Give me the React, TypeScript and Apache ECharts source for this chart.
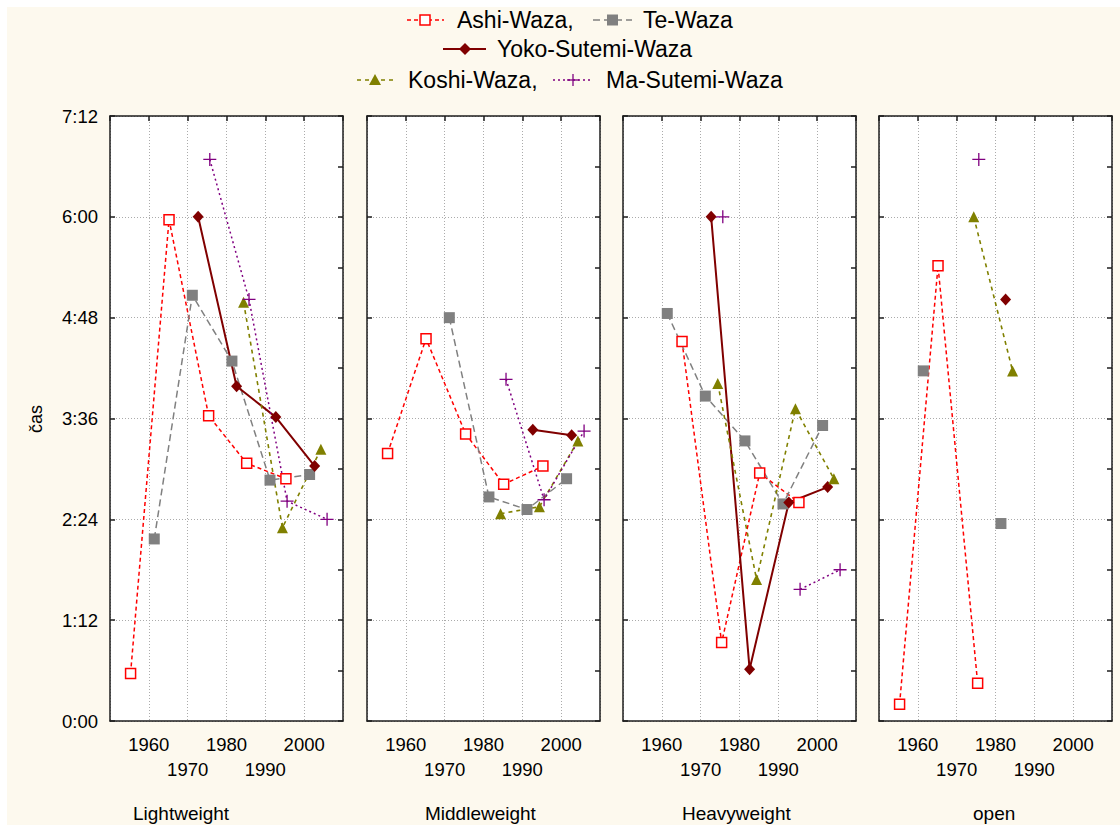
import React, { useEffect, useRef } from "react";
import * as echarts from "echarts";

// ---------- data ----------
const panelNames = ["Lightweight", "Middleweight", "Heavyweight", "open"];
const xTicks = [1960, 1970, 1980, 1990, 2000];

// x positions (year) of each series' points (series are offset within each decade)
const ashiYears = [1955.3, 1965.2, 1975.4, 1985.2, 1995.3];
const teYears = [1961.4, 1971.2, 1981.4, 1991.2, 2001.4];
const yokoYears = [1972.7, 1982.6, 1992.7, 2002.7];
const koshiYears = [1974.4, 1984.4, 1994.4, 2004.3];
const maYears = [1975.7, 1985.8, 1995.6, 2005.9];

// values in seconds, one array per panel (Lightweight, Middleweight, Heavyweight, open)
const ashiSec = [
  [34, 358, 218, 184, 173],
  [191, 273, 205, 169, 182],
  [null, 271, 56, 177, 156],
  [12, 325, 27, null, null],
];
const teSec = [
  [130, 304, 257, 172, 176],
  [null, 288, 160, 151, 173],
  [291, 232, 200, 155, 211],
  [250, null, 141, null, null],
];
const yokoSec = [
  [360, 239, 217, 182],
  [null, null, 208, 204],
  [360, 37, 156, 167],
  [null, 301, null, null],
];
const koshiSec = [
  [null, 299, 138, 194],
  [null, 148, 153, 200],
  [241, 101, 223, 173],
  [360, 250, null, null],
];
const maSec = [
  [401, 301, 157, 144],
  [null, 244, 158, 207],
  [360, null, 94, 108],
  [401, null, null, null],
];

// ---------- layout ----------
const OX = 7;
const OY = 7;
const panelLeft = [110, 367, 623, 879];
const PANEL_TOP = 116;
const PANEL_W = 233;
const PANEL_H = 605;
const FONT = "'Liberation Sans', Arial, sans-serif";
const CREAM = "#FDF9EE";
const AXIS_LINE = { color: "#1e1e1e", width: 1.5 };
const GRID_LINE = { color: "#ababab", width: 1, type: [1, 2] };

const PLUS_PATH = "path://M5.4,0h1.2v12h-1.2zM0,5.4h12v1.2h-12z";

const fmtTime = (v: number) => {
  const m = Math.floor(v / 60);
  const s = Math.round(v % 60);
  return m + ":" + (s < 10 ? "0" + s : String(s));
};

const fmtYear = (v: number) => {
  const y = Math.round(v);
  if (xTicks.indexOf(y) < 0) return "";
  return ((y - 1950) / 10) % 2 === 1 ? String(y) : "\n" + y;
};

const seriesDefs = [
  {
    name: "Ashi-Waza",
    years: ashiYears,
    values: ashiSec,
    line: { color: "#FF0000", width: 1.5, type: [4, 3] },
    symbol: "rect",
    symbolSize: 10,
    item: { color: "#FFFFFF", borderColor: "#FF0000", borderWidth: 1.5 },
  },
  {
    name: "Te-Waza",
    years: teYears,
    values: teSec,
    line: { color: "#808080", width: 1.5, type: [7, 4] },
    symbol: "rect",
    symbolSize: 11,
    item: { color: "#808080" },
  },
  {
    name: "Yoko-Sutemi-Waza",
    years: yokoYears,
    values: yokoSec,
    line: { color: "#800000", width: 2, type: "solid" },
    symbol: "diamond",
    symbolSize: [11, 12],
    item: { color: "#800000" },
  },
  {
    name: "Koshi-Waza",
    years: koshiYears,
    values: koshiSec,
    line: { color: "#808000", width: 1.6, type: [4, 4] },
    symbol: "triangle",
    symbolSize: 11,
    item: { color: "#808000" },
  },
  {
    name: "Ma-Sutemi-Waza",
    years: maYears,
    values: maSec,
    line: { color: "#800080", width: 1.5, type: [2, 3] },
    symbol: PLUS_PATH,
    symbolSize: 13,
    item: { color: "#800080" },
  },
];

function buildOption() {
  const grid: any[] = [];
  const xAxis: any[] = [];
  const yAxis: any[] = [];
  const series: any[] = [];

  panelNames.forEach((_, i) => {
    grid.push({
      left: panelLeft[i] - OX,
      top: PANEL_TOP - OY,
      width: PANEL_W,
      height: PANEL_H,
      show: true,
      backgroundColor: "#FFFFFF",
      borderWidth: 0,
    });
    xAxis.push({
      type: "value",
      gridIndex: i,
      min: 1950,
      max: 2010,
      interval: 10,
      position: "bottom",
      axisLine: { show: true, onZero: false, lineStyle: AXIS_LINE },
      axisTick: { show: false },
      axisLabel: {
        formatter: fmtYear,
        margin: 11,
        fontSize: 18.5,
        lineHeight: 25,
        color: "#000",
        fontFamily: FONT,
        showMinLabel: false,
        showMaxLabel: false,
      },
      splitLine: { show: true, lineStyle: GRID_LINE },
    });
    xAxis.push({
      type: "value",
      gridIndex: i,
      min: 1950,
      max: 2010,
      interval: 10,
      position: "top",
      axisLine: { show: true, onZero: false, lineStyle: AXIS_LINE },
      axisTick: { show: true, inside: true, length: 5, lineStyle: AXIS_LINE },
      axisLabel: { show: false },
      splitLine: { show: false },
    });
    yAxis.push({
      type: "value",
      gridIndex: i,
      min: 0,
      max: 432,
      interval: 72,
      position: "left",
      axisLine: { show: true, onZero: false, lineStyle: AXIS_LINE },
      axisTick: { show: true, inside: true, length: 5, lineStyle: AXIS_LINE },
      axisLabel: {
        show: i === 0,
        formatter: fmtTime,
        margin: 12,
        fontSize: 18.5,
        color: "#000",
        fontFamily: FONT,
      },
      splitLine: { show: true, lineStyle: GRID_LINE },
    });
    yAxis.push({
      type: "value",
      gridIndex: i,
      min: 0,
      max: 432,
      interval: 36,
      position: "right",
      axisLine: { show: true, onZero: false, lineStyle: AXIS_LINE },
      axisTick: { show: true, inside: true, length: 5, lineStyle: AXIS_LINE },
      axisLabel: { show: false },
      splitLine: { show: false },
    });

    seriesDefs.forEach((sd) => {
      series.push({
        type: "line",
        name: sd.name,
        xAxisIndex: 2 * i,
        yAxisIndex: 2 * i,
        data: sd.years.map((yr, k) => {
          const v = sd.values[i][k];
          return [yr, v === null || v === undefined ? "-" : v];
        }),
        connectNulls: false,
        showSymbol: true,
        showAllSymbol: true,
        symbol: sd.symbol,
        symbolSize: sd.symbolSize,
        lineStyle: sd.line,
        itemStyle: sd.item,
        emphasis: { disabled: true },
        clip: false,
      });
    });
  });

  // ---------- manual legend and texts ----------
  const g: any[] = [];
  const txt = (text: string, x: number, y: number, size: number, extra: any = {}) => ({
    type: "text",
    x: x - OX,
    y: y - OY,
    style: {
      text,
      fontSize: size,
      fontFamily: FONT,
      fill: "#000",
      align: "left",
      verticalAlign: "middle",
      textAlign: "left",
      textVerticalAlign: "middle",
      ...extra,
    },
  });
  const seg = (x1: number, x2: number, y: number, line: any) => ({
    type: "line",
    shape: { x1: x1 - OX, y1: y - OY, x2: x2 - OX, y2: y - OY },
    style: {
      stroke: line.color,
      lineWidth: line.width,
      lineDash: Array.isArray(line.type) ? line.type : null,
    },
  });

  // row 1
  const r1 = 20;
  g.push(seg(407, 444, r1, seriesDefs[0].line));
  g.push({
    type: "rect",
    shape: { x: 420 - OX, y: r1 - 5 - OY, width: 10, height: 10 },
    style: { fill: "#FFFFFF", stroke: "#FF0000", lineWidth: 1.5 },
  });
  g.push(txt("Ashi-Waza,", 457, r1, 23));
  g.push(seg(593, 632, r1, seriesDefs[1].line));
  g.push({
    type: "rect",
    shape: { x: 607 - OX, y: r1 - 5.5 - OY, width: 11, height: 11 },
    style: { fill: "#808080" },
  });
  g.push(txt("Te-Waza", 643, r1, 23));

  // row 2
  const r2 = 49;
  g.push(seg(443, 486, r2, seriesDefs[2].line));
  g.push({
    type: "polygon",
    shape: {
      points: [
        [465 - OX, r2 - 6 - OY],
        [471 - OX, r2 - OY],
        [465 - OX, r2 + 6 - OY],
        [459 - OX, r2 - OY],
      ],
    },
    style: { fill: "#800000" },
  });
  g.push(txt("Yoko-Sutemi-Waza", 497, r2, 23));

  // row 3
  const r3 = 80;
  g.push(seg(357, 393, r3, seriesDefs[3].line));
  g.push({
    type: "polygon",
    shape: {
      points: [
        [375 - OX, r3 - 6 - OY],
        [381 - OX, r3 + 5 - OY],
        [369 - OX, r3 + 5 - OY],
      ],
    },
    style: { fill: "#808000" },
  });
  g.push(txt("Koshi-Waza,", 408, r3, 23));
  g.push(seg(553, 593, r3, seriesDefs[4].line));
  g.push({
    type: "line",
    shape: { x1: 567 - OX, y1: r3 - OY, x2: 579 - OX, y2: r3 - OY },
    style: { stroke: "#800080", lineWidth: 1.3 },
  });
  g.push({
    type: "line",
    shape: { x1: 573 - OX, y1: r3 - 6 - OY, x2: 573 - OX, y2: r3 + 6 - OY },
    style: { stroke: "#800080", lineWidth: 1.3 },
  });
  g.push(txt("Ma-Sutemi-Waza", 606, r3, 23));

  // y-axis title
  g.push({
    type: "text",
    x: 36 - OX,
    y: 419 - OY,
    rotation: Math.PI / 2,
    style: {
      text: "čas",
      fontSize: 18,
      fontFamily: FONT,
      fill: "#000",
      align: "center",
      verticalAlign: "middle",
      textAlign: "center",
      textVerticalAlign: "middle",
    },
  });

  // panel names
  const nameX = [133, 425, 682, 973];
  panelNames.forEach((n, i) => g.push(txt(n, nameX[i], 813, 19)));

  return {
    animation: false,
    backgroundColor: CREAM,
    grid,
    xAxis,
    yAxis,
    series,
    graphic: { elements: g },
  };
}

export default function App() {
  const ref = useRef<HTMLDivElement>(null);
  useEffect(() => {
    if (!ref.current) return;
    const chart = echarts.init(ref.current, undefined, { renderer: "svg" });
    chart.setOption(buildOption() as any);
    return () => chart.dispose();
  }, []);
  return (
    <div
      ref={ref}
      style={{
        position: "absolute",
        left: OX,
        top: OY,
        width: 1120 - OX,
        height: 825 - OY,
      }}
    />
  );
}
